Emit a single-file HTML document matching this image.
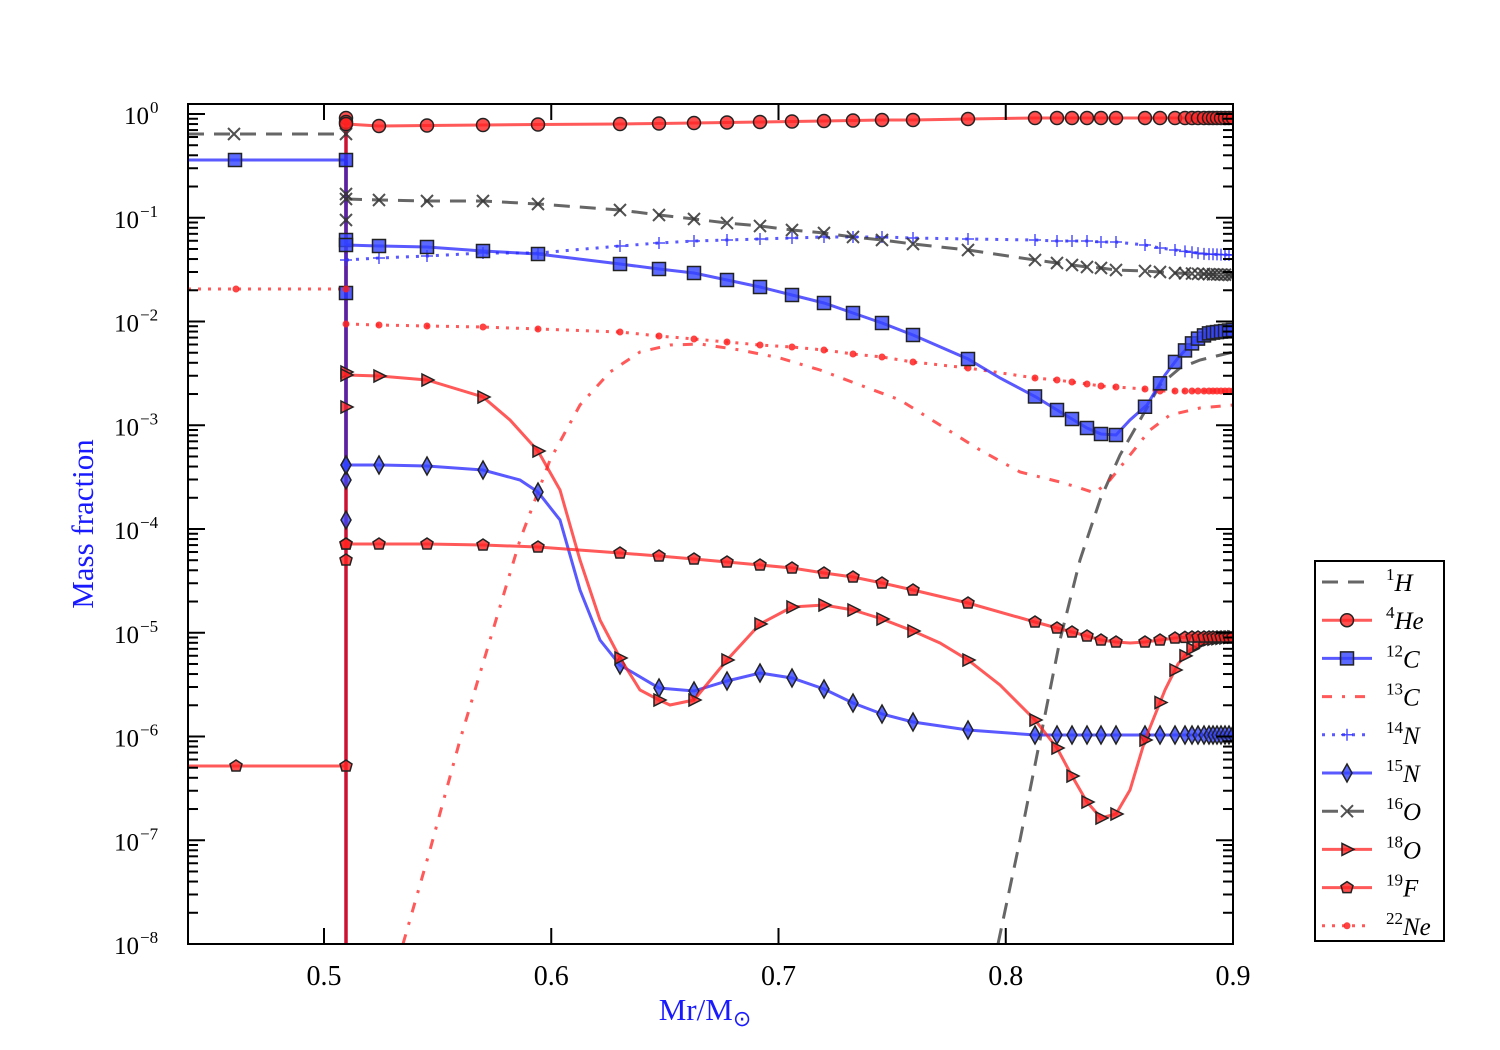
<!DOCTYPE html>
<html><head><meta charset="utf-8"><style>
html,body{margin:0;padding:0;background:#fff}
svg{display:block}
text{font-family:"Liberation Serif",serif}
</style></head><body>
<svg id="s" width="1500" height="1050" xmlns="http://www.w3.org/2000/svg"></svg>
<script>
const S=document.getElementById('s');let h='';
const L=188,R=1233,T=104,B=944;
function Y(lv){return 114-lv*103.75}
h+='<defs><clipPath id="c"><rect x="'+L+'" y="'+T+'" width="'+(R-L)+'" height="'+(B-T)+'"/></clipPath></defs>';
function pts(a){return a.map(p=>p[0]+','+p[1]).join(' ')}
function line(a,col,dash,w){return '<polyline points="'+pts(a)+'" fill="none" stroke="'+col+'" stroke-opacity="0.75" stroke-width="'+(w||3)+'"'+(dash?' stroke-dasharray="'+dash+'"':'')+'/>'}
function interp(a,x){for(let i=0;i<a.length-1;i++){if(x>=a[i][0]&&x<=a[i+1][0]){let t=(x-a[i][0])/(a[i+1][0]-a[i][0]);return a[i][1]+t*(a[i+1][1]-a[i][1]);}}return a[a.length-1][1]}
function mk(type,x,y,fill){
 const st=' fill="'+fill+'" fill-opacity="0.8" stroke="#222" stroke-width="1.5"';
 if(type=='o')return '<circle cx="'+x+'" cy="'+y+'" r="6.5"'+st+'/>';
 if(type=='s')return '<rect x="'+(x-6.5)+'" y="'+(y-6.5)+'" width="13" height="13"'+st+'/>';
 if(type=='d')return '<polygon points="'+x+','+(y-9)+' '+(x+5)+','+y+' '+x+','+(y+9)+' '+(x-5)+','+y+'"'+st+'/>';
 if(type=='t')return '<polygon points="'+(x-5)+','+(y-6)+' '+(x+7)+','+y+' '+(x-5)+','+(y+6)+'"'+st+'/>';
 if(type=='p')return '<polygon points="'+x+','+(y-6)+' '+(x+6)+','+(y-2)+' '+(x+4)+','+(y+5)+' '+(x-4)+','+(y+5)+' '+(x-6)+','+(y-2)+'"'+st+'/>';
 if(type=='x')return '<path d="M'+(x-6)+','+(y-6)+'L'+(x+6)+','+(y+6)+'M'+(x+6)+','+(y-6)+'L'+(x-6)+','+(y+6)+'" stroke="#333" stroke-width="2" opacity="0.85"/>';
 if(type=='+')return '<path d="M'+(x-6)+','+y+'L'+(x+6)+','+y+'M'+x+','+(y-6)+'L'+x+','+(y+6)+'" stroke="#3333ff" stroke-width="1.5" opacity="0.85"/>';
 if(type=='.')return '<circle cx="'+x+'" cy="'+y+'" r="3.5" fill="#ff2222" opacity="0.85"/>';
}
const MX=[346,379,427,483,538,620,659,694,727,760,792,824,853,882,913,968,1035,1057,1072,1087,1101,1116,1145,1160,1175,1185,1192,1198,1204,1209,1213,1217,1221,1225,1229,1233];
function series(a,col,dash,type,fill,xs){let s=line(a,col,dash);(xs||MX).forEach(x=>{if(x>=a[0][0]&&x<=a[a.length-1][0])s+=mk(type,x,interp(a,x),fill)});return s}
let g='<g clip-path="url(#c)">';
g+=line([[188,134],[346,134]],'#333','16,10')+mk('x',234,134);
g+=line([[188,160],[346,160]],'#2222ff')+mk('s',235,160,'#3344ff');
g+=line([[188,289],[346,289]],'#ff2222','3,7')+mk('.',236,289);
g+=line([[188,766],[346,766]],'#ff2222')+mk('p',236,766,'#ff2222');
g+='<line x1="346" y1="944" x2="346" y2="118" stroke="#cc1133" stroke-width="3.5"/>';
g+='<line x1="346" y1="160" x2="346" y2="470" stroke="#5522aa" stroke-width="3.5"/>';
[[118,'o','#ff2222'],[122,'o','#ff2222'],[134,'x'],[160,'s','#2233ff'],[194,'x'],[220,'x'],[240,'s','#3344ff'],[293,'s','#2233ff'],[289,'.'],[372,'t','#ff2222'],[407,'t','#ff2222'],[465,'d','#3344ff'],[480,'d','#3344ff'],[520,'d','#3344ff'],[544,'p','#ff2222'],[560,'p','#ff2222'],[766,'p','#ff2222']].forEach(m=>g+=mk(m[1],346,m[0],m[2]||'#f00'));
g+=line([[998,944],[1020,840],[1040,740],[1060,640],[1080,560],[1100,500],[1120,455],[1140,420],[1160,385],[1180,368],[1200,360],[1233,352]],'#333','16,10');
g+=line([[403,944],[430,850],[460,740],[490,640],[520,540],[550,460],[580,405],[610,372],[640,352],[670,345],[700,344],[740,350],[780,358],[820,370],[860,385],[900,400],[940,425],[980,450],[1020,472],[1060,482],[1080,488],[1095,493],[1110,480],[1130,455],[1150,430],[1170,415],[1200,408],[1233,405]],'#ff2222','10,10,3,10');
g+=series([[346,324],[379,325],[427,326],[483,327],[538,329],[620,332],[659,336],[694,339],[727,342],[760,345],[792,347],[824,350],[853,354],[882,357],[913,362],[968,368],[1035,378],[1057,380],[1072,382],[1087,384],[1101,386],[1116,387],[1145,389],[1160,391],[1233,391]],'#ff2222','3,7','.');
g+=series([[346,260],[379,258],[427,256],[483,253],[538,253],[620,246],[659,243],[694,241],[727,240],[760,239],[792,238],[824,237],[853,237],[882,237],[913,238],[968,239],[1035,240],[1057,241],[1072,241],[1087,241],[1101,242],[1116,242],[1145,245],[1160,248],[1175,250],[1190,252],[1205,254],[1233,255]],'#2222ff','3,7','+');
g+=series([[346,199],[379,200],[427,201],[483,201],[538,204],[620,210],[659,215],[694,219],[727,223],[760,226],[792,230],[824,233],[853,237],[882,240],[913,244],[968,250],[1035,260],[1057,263],[1072,265],[1087,267],[1101,268],[1116,270],[1145,271],[1160,272],[1175,273],[1233,275]],'#333','16,10','x');
g+=series([[346,124],[379,126],[427,125.5],[483,125],[538,124.5],[620,124],[659,123.5],[694,123],[727,122.5],[760,122],[792,121.5],[824,121],[853,120.5],[882,120],[913,120],[968,119],[1035,118],[1233,118]],'#ff2222',null,'o','#ff2222');
g+=series([[346,245],[379,246],[427,247],[483,251],[538,254],[620,264],[659,269],[694,273],[727,280],[760,287],[792,295],[824,303],[853,313],[882,323],[913,335],[968,359],[1000,378],[1036,397],[1057,410],[1072,419],[1087,428],[1101,434],[1116,435],[1130,420],[1147,405],[1165,375],[1178,358],[1190,345],[1200,337],[1210,333],[1233,330]],'#2222ff',null,'s','#3344ff');
g+=series([[346,465],[379,465],[427,466],[483,470],[520,480],[538,492],[560,520],[580,590],[600,640],[620,665],[659,688],[694,691],[727,681],[760,673],[792,678],[824,689],[853,703],[882,714],[913,722],[968,730],[1035,735],[1233,735]],'#2222ff',null,'d','#3344ff');
g+=series([[346,375],[379,376],[427,380],[483,397],[510,420],[538,451],[560,490],[580,560],[600,620],[620,658],[640,690],[659,700],[670,705],[694,700],[727,660],[760,624],[792,607],[824,605],[853,610],[882,619],[913,631],[940,643],[968,660],[1000,685],[1035,720],[1057,748],[1072,776],[1087,802],[1101,818],[1116,814],[1130,790],[1145,740],[1165,690],[1178,664],[1190,650],[1205,640],[1233,637]],'#ff2222',null,'t','#ff2222');
g+=series([[346,544],[379,544],[427,544],[483,545],[538,547],[620,553],[659,556],[694,559],[727,562],[760,565],[792,568],[824,573],[853,577],[882,583],[913,590],[968,603],[1035,622],[1057,628],[1072,632],[1087,636],[1101,640],[1116,642],[1130,643],[1145,642],[1160,640],[1175,638],[1190,637],[1233,637]],'#ff2222',null,'p','#ff2222');
g+='</g>';
h+=g;
h+='<rect x="'+L+'" y="'+T+'" width="'+(R-L)+'" height="'+(B-T)+'" fill="none" stroke="#000" stroke-width="2"/>';
let t='';
for(let d=0;d>=-8;d--){
 const y=Y(d);
 t+='<line x1="'+L+'" y1="'+y+'" x2="'+(L+17)+'" y2="'+y+'"/><line x1="'+R+'" y1="'+y+'" x2="'+(R-17)+'" y2="'+y+'"/>';
 const be=d==0?149:139;
 h+='<text x="'+be+'" y="'+(y+10)+'" font-size="25" text-anchor="end">10</text>';
 h+='<text x="'+(be+1)+'" y="'+(y-1)+'" font-size="17">'+(d==0?'0':'\u2212'+(-d))+'</text>';
 for(let k=2;k<10;k++){const yy=Y(d-1+Math.log10(k));if(yy<T||yy>B)continue;t+='<line x1="'+L+'" y1="'+yy+'" x2="'+(L+10)+'" y2="'+yy+'"/><line x1="'+R+'" y1="'+yy+'" x2="'+(R-10)+'" y2="'+yy+'"/>';}
}
for(let k=2;k<10;k++){const yy=Y(Math.log10(k));if(yy>=T)t+='<line x1="'+L+'" y1="'+yy+'" x2="'+(L+10)+'" y2="'+yy+'"/><line x1="'+R+'" y1="'+yy+'" x2="'+(R-10)+'" y2="'+yy+'"/>';}
['0.5','0.6','0.7','0.8','0.9'].forEach((s,i)=>{const x=324+i*227.25;
 t+='<line x1="'+x+'" y1="'+B+'" x2="'+x+'" y2="'+(B-16)+'"/><line x1="'+x+'" y1="'+T+'" x2="'+x+'" y2="'+(T+16)+'"/>';
 h+='<text x="'+x+'" y="985" font-size="28" text-anchor="middle">'+s+'</text>';});
h+='<g stroke="#000" stroke-width="2">'+t+'</g>';
h+='<text x="705" y="1020" font-size="31" fill="#1a1aff" text-anchor="middle">Mr/M<tspan font-size="22" dy="6">\u2299</tspan></text>';
h+='<text transform="translate(93,524) rotate(-90)" font-size="31" fill="#1a1aff" text-anchor="middle">Mass fraction</text>';
h+='<rect x="1315" y="561" width="129" height="380" fill="#fff" stroke="#000" stroke-width="2"/>';
const lg=[['1H','#333','16,10',null],['4He','#ff2222',null,'o'],['12C','#2222ff',null,'s'],['13C','#ff2222','10,10,3,10',null],['14N','#2222ff','3,7','+'],['15N','#2222ff',null,'d'],['16O','#333','16,10','x'],['18O','#ff2222',null,'t'],['19F','#ff2222',null,'p'],['22Ne','#ff2222','3,7','.']];
lg.forEach((e,i)=>{const y=582+i*38.2;const m=e[0].match(/(\d+)(\D+)/);
 h+=line([[1322,y],[1372,y]],e[1],e[2]);
 if(e[3])h+=mk(e[3],1347,y,e[1]=='#2222ff'?'#3344ff':'#ff2222');
 h+='<text x="1386" y="'+(y+9)+'" font-size="25"><tspan font-size="17" dy="-11">'+m[1]+'</tspan><tspan dy="11" font-style="italic">'+m[2]+'</tspan></text>';});
S.innerHTML=h;
</script>
</body></html>
